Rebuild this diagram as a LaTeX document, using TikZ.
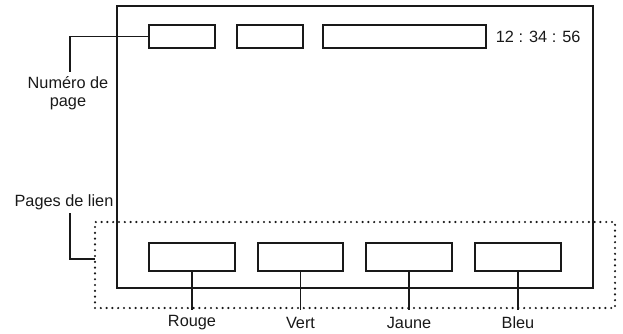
\documentclass[tikz,border=0pt]{standalone}
\usepackage{fontspec}
\setmainfont{Liberation Sans}
\begin{document}
\begin{tikzpicture}[x=1pt, y=-1pt, line width=1.8pt, black!90,
  font=\fontsize{16.3}{18}\selectfont,
  field/.style={draw, line width=1.6pt, minimum height=23pt, inner sep=0pt},
  key/.style={draw, line width=1.6pt, minimum width=86pt, minimum height=28pt, inner sep=0pt},
  tag/.style={inner sep=0pt, align=center},
  dotline/.style={line width=2.4pt, dash pattern=on 0pt off 5.8pt, line cap=round}]

  \useasboundingbox (0,0) rectangle (623,333);

  % -- Screen frame --
  \draw[line width=2pt] (117,6) rectangle (593,288);

  % -- Top line fields --
  \node[field, minimum width=66pt] (pagebox) at (182,36.5) {};
  \node[field, minimum width=66pt] (midbox) at (270,36.5) {};
  \node[field, minimum width=163pt] (titlebox) at (404.5,36.5) {};
  \node[tag, anchor=west] (clock) at (495,37) {12 : 34 : 56};

  % -- Page number callout --
  \coordinate (numend) at (70,72);
  \node[tag] (numlab) at (68,93) {Numéro de\\page};
  \draw (pagebox.west) -| (numend);

  % -- Link page zone (dotted) --
  \node[draw, dotline, minimum width=520pt, minimum height=86pt, inner sep=0pt] (linkzone) at (355,265) {};
  \node[tag] (linklab) at (64,202) {Pages de lien};
  \coordinate (linkstart) at (70,213);
  \coordinate (linkend) at (95,259);
  \draw (linkstart) |- (linkend);

  % -- Colour keys --
  \node[key] (rougebox) at (192,257) {};
  \node[key, minimum width=85pt] (vertbox) at (300.5,257) {};
  \node[key] (jaunebox) at (409,257) {};
  \node[key] (bleubox) at (518,257) {};

  \coordinate (rougeend) at (192,310);
  \coordinate (vertend) at (300.5,310);
  \coordinate (jauneend) at (409,310);
  \coordinate (bleuend) at (518,310);
  \draw (rougebox.south) -- (rougeend);
  \draw (vertbox.south) -- (vertend);
  \draw (jaunebox.south) -- (jauneend);
  \draw (bleubox.south) -- (bleuend);

  \node[tag] (rouge) at (192,323) {Rouge};
  \node[tag] (vert) at (300.5,323) {Vert};
  \node[tag] (jaune) at (409,323) {Jaune};
  \node[tag] (bleu) at (518,323) {Bleu};

\end{tikzpicture}
\end{document}
